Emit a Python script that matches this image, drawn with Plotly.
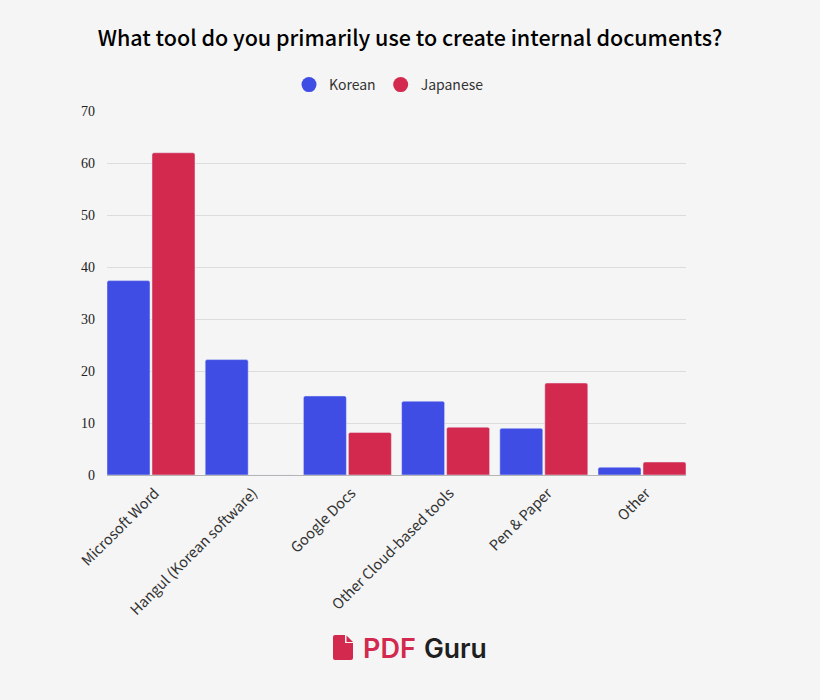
import plotly.graph_objects as go

categories = ["Microsoft Word", "Hangul (Korean software)", "Google Docs",
              "Other Cloud-based tools", "Pen & Paper", "Other"]
korean = [37.4, 22.2, 15.2, 14.2, 9.0, 1.5]
japanese = [62.0, 0, 8.2, 9.2, 17.7, 2.5]
y_ticks = [0, 10, 20, 30, 40, 50, 60, 70]
BLUE = "#3f4de4"
RED = "#d3294f"
BG = "#f5f5f5"
FONT = "Noto Sans CJK KR"
W, H = 820, 700
L, R, T, B = 107, 686, 111, 475


def px(x):
    return (x - L) / (R - L)


def py(y):
    return (B - y) / (B - T)


fig = go.Figure()
fig.add_bar(name="Korean", x=categories, y=korean, marker_color=BLUE, showlegend=False,
            legendgroup="Korean")
fig.add_bar(name="Japanese", x=categories, y=japanese, marker_color=RED, showlegend=False,
            legendgroup="Japanese")
for name, color in (("Korean", BLUE), ("Japanese", RED)):
    fig.add_scatter(name=name, x=[None], y=[None], mode="markers", legendgroup=name,
                    marker=dict(color=color, size=15, symbol="circle"))

annotations = [
    dict(text="PDF", x=px(363), y=py(648), xanchor="left", yanchor="middle",
         font=dict(family="Inter, Noto Sans", size=27, color=RED, weight=600)),
    dict(text="Guru", x=px(424), y=py(648), xanchor="left", yanchor="middle",
         font=dict(family="Inter, Noto Sans", size=26.5, color="#1f1f1f", weight=600)),
]
for a in annotations:
    a.update(xref="paper", yref="paper", showarrow=False, borderpad=0, borderwidth=0)

x0, x1, y0, y1 = 333, 353, 635, 660
icon = (f"M {px(x0+2)},{py(y0)} L {px(345)},{py(y0)} L {px(345)},{py(643)} "
        f"L {px(x1)},{py(643)} L {px(x1)},{py(y1-2)} Q {px(x1)},{py(y1)} {px(x1-2)},{py(y1)} "
        f"L {px(x0+2)},{py(y1)} Q {px(x0)},{py(y1)} {px(x0)},{py(y1-2)} "
        f"L {px(x0)},{py(y0+2)} Q {px(x0)},{py(y0)} {px(x0+2)},{py(y0)} Z")
corner = f"M {px(346.5)},{py(635.5)} L {px(353)},{py(642)} L {px(346.5)},{py(642)} Z"

fig.update_layout(
    width=W, height=H, autosize=False,
    margin=dict(l=L, r=W - R, t=T, b=H - B, pad=0),
    paper_bgcolor=BG, plot_bgcolor=BG,
    barmode="group", bargap=0.0835, bargroupgap=0.0444, barcornerradius=2,
    title=dict(text="What tool do you primarily use to create internal documents?",
               x=410 / W, xanchor="center", y=1 - 38 / H, yanchor="middle",
               font=dict(family="Noto Sans CJK KR Medium, " + FONT, size=21.5,
                         color="#000000")),
    legend=dict(orientation="h", x=px(289), xanchor="left", y=py(85), yanchor="middle",
                font=dict(family=FONT, size=14, color="#333333"),
                itemwidth=30, tracegroupgap=7, bgcolor="rgba(0,0,0,0)"),
    xaxis=dict(type="category", categoryorder="array", categoryarray=categories,
               range=[-0.448, 5.448], tickangle=-45, ticks="", showgrid=False,
               showline=True, linecolor="#b4b4b4", linewidth=1,
               ticklabelstandoff=3, ticklabelshift=4,
               tickfont=dict(family=FONT, size=14.5, color="#333333")),
    yaxis=dict(range=[0, 70.03], tickvals=y_ticks, ticks="", showline=False, zeroline=False,
               gridcolor="#dcdcdc", gridwidth=1, ticklabelstandoff=11,
               tickfont=dict(family="Liberation Serif", size=14, color="#222222")),
    annotations=annotations,
    shapes=[
        dict(type="path", xref="paper", yref="paper", path=icon, fillcolor=RED, line_width=0),
        dict(type="path", xref="paper", yref="paper", path=corner, fillcolor=RED, line_width=0),
    ],
)
fig.write_html("out.html", config={"displayModeBar": False},
               post_script=f"document.body.style.margin='0';document.body.style.background='{BG}';")
